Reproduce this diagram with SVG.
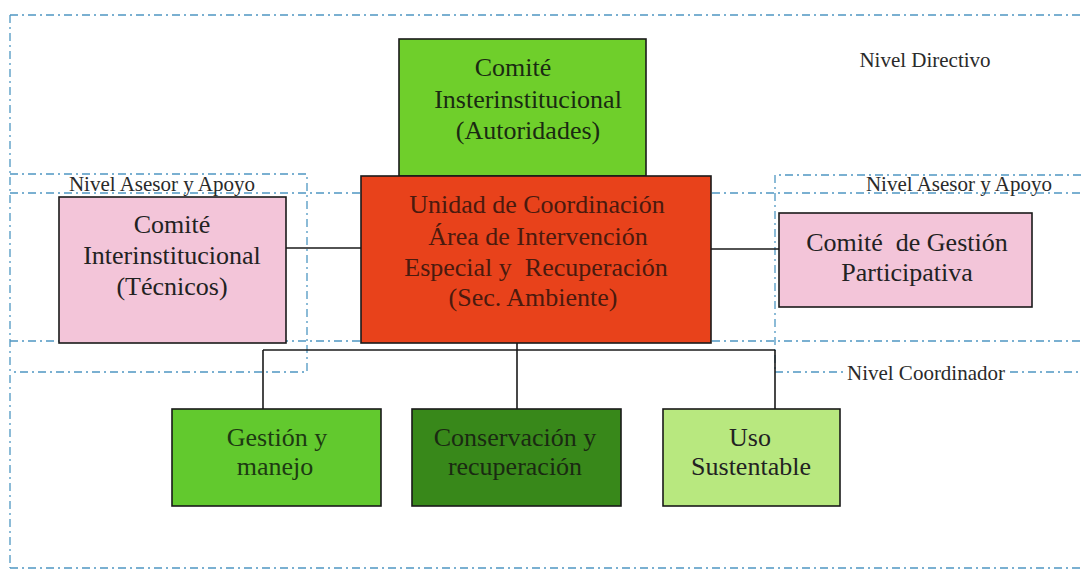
<svg xmlns="http://www.w3.org/2000/svg" width="1081" height="572" viewBox="0 0 1081 572" font-family="'Liberation Serif', Tinos, 'Times New Roman', 'DejaVu Serif', serif">
<style>
.frame{fill:none;stroke:#4f97c2;stroke-width:1.3;stroke-dasharray:8 4 2 4}
.box{stroke:#1a1a1a;stroke-width:1.6}
.conn{fill:none;stroke:#1a1a1a;stroke-width:1.6}
text{font-family:'Liberation Serif', Tinos, 'Times New Roman', 'DejaVu Serif', serif;text-anchor:middle;white-space:pre}
.t{font-size:26px}
.lvl{font-size:21px;fill:#2a2a2a}
</style>
<rect width="1081" height="572" fill="#ffffff"/>
<g id="levels">
<path class="frame" d="M10 15H1081M10 15V568M10 568H1081"/>
<path class="frame" d="M10 174H307V372H10"/>
<path class="frame" d="M1081 175H775V372"/>
<path class="frame" d="M10 193H1081"/>
<path class="frame" d="M10 341H1081"/>
<path class="frame" d="M775 372H843M1010 372H1081"/>
</g>
<g id="connectors">
<path class="conn" d="M286 248H361"/>
<path class="conn" d="M711 249H779"/>
<path class="conn" d="M263 350H775"/>
<path class="conn" d="M263 350V409"/>
<path class="conn" d="M517 343V409"/>
<path class="conn" d="M775 350V409"/>
</g>
<g id="comite-autoridades">
<rect class="box" x="399" y="39" width="247" height="137" fill="#6fcf2b"/>
<text class="t" fill="#1a2a12" font-family="Liberation Serif, serif"><tspan x="513" y="76">Comité</tspan><tspan x="528" y="108">Insterinstitucional</tspan><tspan x="528" y="139">(Autoridades)</tspan></text>
</g>
<g id="unidad-coordinacion">
<rect class="box" x="361" y="176" width="350" height="167" fill="#e8421b"/>
<text class="t" fill="#4a1a0e"><tspan x="537" y="213">Unidad de Coordinación</tspan><tspan x="538" y="245">Área de Intervención</tspan><tspan x="536" y="276">Especial y  Recuperación</tspan><tspan x="533" y="306">(Sec. Ambiente)</tspan></text>
</g>
<g id="comite-tecnicos">
<rect class="box" x="59" y="197" width="227" height="146" fill="#f3c5d9"/>
<text class="t" fill="#222"><tspan x="172" y="233">Comité</tspan><tspan x="172" y="264">Interinstitucional</tspan><tspan x="172" y="295">(Técnicos)</tspan></text>
</g>
<g id="comite-gestion">
<rect class="box" x="779" y="213" width="253" height="94" fill="#f3c5d9"/>
<text class="t" fill="#222"><tspan x="907" y="251">Comité  de Gestión</tspan><tspan x="907" y="281">Participativa</tspan></text>
</g>
<g id="gestion-manejo">
<rect class="box" x="172" y="409" width="209" height="97" fill="#62c92e"/>
<text class="t" fill="#1d3a12"><tspan x="277" y="446">Gestión y</tspan><tspan x="275" y="475">manejo</tspan></text>
</g>
<g id="conservacion">
<rect class="box" x="412" y="409" width="209" height="97" fill="#38881a"/>
<text class="t" fill="#1a2a12"><tspan x="515" y="446">Conservación y</tspan><tspan x="515" y="475">recuperación</tspan></text>
</g>
<g id="uso-sustentable">
<rect class="box" x="663" y="409" width="177" height="97" fill="#b8e87f"/>
<text class="t" fill="#222"><tspan x="750" y="446">Uso</tspan><tspan x="751" y="475">Sustentable</tspan></text>
</g>
<g id="level-labels">
<text class="lvl" x="925" y="67">Nivel Directivo</text>
<text class="lvl" x="162" y="191">Nivel Asesor y Apoyo</text>
<text class="lvl" x="959" y="191">Nivel Asesor y Apoyo</text>
<text class="lvl" x="926" y="380">Nivel Coordinador</text>
</g>
</svg>
